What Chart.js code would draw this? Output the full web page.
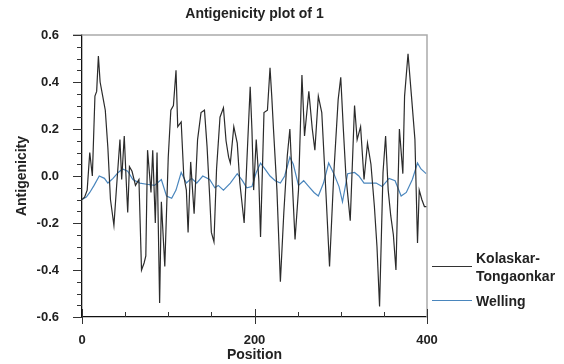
<!DOCTYPE html>
<html>
<head>
<meta charset="utf-8">
<script src="https://cdn.jsdelivr.net/npm/chart.js@4.4.1/dist/chart.umd.min.js"></script>
<style>
  body { margin: 0; background: #fff; }
  #wrap { position: relative; width: 564px; height: 364px; font-family: "Liberation Sans", Arial, sans-serif; font-weight: bold; color: #222; }
  #chart { position: absolute; left: 0; top: 0; }
  #title { position: absolute; left: 82px; width: 345px; top: 5px; text-align: center; font-size: 14px; }
  .legLine { position: absolute; left: 432px; width: 40px; height: 0; }
  .legText { position: absolute; left: 476px; font-size: 14px; line-height: 18px; }
</style>
</head>
<body>
<div id="wrap">
  <canvas id="chart" width="564" height="364"></canvas>
  <div id="title">Antigenicity plot of 1</div>
  <div class="legLine" style="top:266px; border-top:1.2px solid #333;"></div>
  <div class="legText" style="top:249px;">Kolaskar-<br>Tongaonkar</div>
  <div class="legLine" style="top:300px; border-top:1.2px solid #4a86bd;"></div>
  <div class="legText" style="top:292px;">Welling</div>
</div>
<script>
// Kolaskar-Tongaonkar antigenicity
var ktPos = [0, 3, 6, 9, 12, 15, 17, 19, 21, 24, 27, 30, 33, 37, 40, 44, 46, 49, 51, 53, 55, 58, 62, 66, 69, 72, 74, 76, 80, 82, 85, 87, 90, 92, 96,
  100, 103, 106, 109, 111, 115, 118, 121, 123, 126, 130, 134, 138, 142, 145, 148, 150, 153, 156, 160, 164, 167, 170, 172, 176, 180, 183, 188, 191, 195, 197, 199,
  202, 205, 207, 211, 215, 218, 220, 222, 226, 230, 234, 238, 241, 244, 247, 251, 255, 258, 263, 267, 270, 274, 278, 283, 287, 292, 297,
  300, 303, 306, 311, 316, 319, 323, 327, 331, 335, 339, 342, 345, 349, 352, 355, 358, 361, 364, 368, 372, 374, 378, 382, 386, 389, 391, 394, 397, 400];
var ktVal = [-0.10, -0.09, -0.06, 0.10, 0.00, 0.34, 0.36, 0.51, 0.40, 0.34, 0.28, 0.12, -0.10, -0.21, -0.05, 0.155, -0.015, 0.17, 0.0, -0.155, 0.04, 0.02, -0.04, -0.015, -0.40, -0.37, -0.34, 0.11, -0.07, 0.11, -0.20, 0.10, -0.54, -0.11, -0.385,
  0.08, 0.28, 0.30, 0.45, 0.21, 0.23, 0.0, -0.06, -0.24, 0.06, -0.16, 0.155, 0.27, 0.28, 0.125, -0.085, -0.24, -0.28, 0.03, 0.25, 0.29, 0.15, 0.08, 0.055, 0.21, 0.14, -0.03, -0.20, 0.05, 0.38, 0.20, -0.06,
  0.155, -0.015, -0.26, 0.27, 0.28, 0.46, 0.34, 0.20, -0.06, -0.45, -0.155, 0.085, 0.20, -0.04, -0.27, -0.06, 0.43, 0.17, 0.36, 0.20, 0.11, 0.34, 0.27, -0.085, -0.385, 0.015, 0.325,
  0.42, 0.20, 0.0, -0.19, 0.30, 0.155, 0.21, -0.015, 0.14, 0.05, -0.13, -0.30, -0.555, 0.015, 0.17, -0.06, -0.17, -0.25, -0.40, 0.20, 0.01, 0.34, 0.52, 0.34, 0.155, -0.285, -0.06, -0.10, -0.13, -0.13];

// Welling antigenicity
var wPos = [0, 5, 9, 14, 20, 26, 30, 36, 42, 47, 53, 59, 67, 75, 84, 92, 98, 104, 109, 115, 121, 127, 133, 140, 148, 154, 158, 164, 172, 180, 186, 191, 197,
  202, 207, 212, 218, 224, 230, 235, 241, 245, 251, 257, 263, 269, 274, 280, 286, 292, 298, 302, 308, 316, 321, 327, 334, 341, 348, 356, 363, 370, 376, 383, 389, 393, 399];
var wVal = [-0.10, -0.09, -0.07, -0.04, 0.0, -0.01, -0.03, -0.01, 0.015, 0.03, 0.02, -0.015, -0.03, -0.035, -0.04, -0.015, -0.085, -0.095, -0.06, 0.015, -0.03, -0.01, -0.03, 0.0, -0.015, -0.05, -0.04, -0.06, -0.03, 0.01, -0.02, -0.05, -0.045,
  0.015, 0.055, 0.03, 0.0, -0.02, -0.03, 0.0, 0.08, 0.05, -0.04, -0.02, -0.045, -0.07, -0.085, -0.03, 0.055, 0.01, -0.045, -0.11, 0.01, 0.015, 0.0, -0.03, -0.03, -0.03, -0.045, -0.01, -0.02, -0.085, -0.07, -0.015, 0.055, 0.03, 0.01];

var seriesNames = ['Kolaskar-Tongaonkar', 'Welling'];

function toPoints(xs, ys) {
  return xs.map(function (x, i) { return { x: x, y: ys[i] }; });
}

var tickFont = { family: '"Liberation Sans", Arial, sans-serif', size: 13, weight: 'bold' };
var titleFont = { family: '"Liberation Sans", Arial, sans-serif', size: 14, weight: 'bold' };

// frame on top/right plus tick marks (major long, minor short)
var frameTicks = {
  id: 'frameTicks',
  afterDraw: function (chart) {
    var ctx = chart.ctx;
    var a = chart.chartArea;
    var xs = chart.scales.x;
    var ys = chart.scales.y;
    ctx.save();
    ctx.strokeStyle = '#aaaaaa';
    ctx.lineWidth = 1.5;
    ctx.beginPath();
    ctx.moveTo(a.left - 9, a.top);
    ctx.lineTo(a.right, a.top);
    ctx.lineTo(a.right, a.bottom);
    ctx.stroke();

    ctx.strokeStyle = '#333';
    ctx.lineWidth = 1;
    ys.ticks.forEach(function (t) {
      var py = Math.round(ys.getPixelForValue(t.value)) + 0.5;
      var major = Math.abs(Math.round(t.value * 100)) % 20 === 0;
      ctx.beginPath();
      ctx.moveTo(a.left - (major ? 9 : 5), py);
      ctx.lineTo(a.left, py);
      ctx.stroke();
    });
    xs.ticks.forEach(function (t) {
      var px = Math.round(xs.getPixelForValue(t.value)) + 0.5;
      var major = t.value % 200 === 0;
      ctx.beginPath();
      if (major) {
        ctx.moveTo(px, a.bottom - 8);
        ctx.lineTo(px, a.bottom + 7);
      } else {
        ctx.moveTo(px, a.bottom - 5);
        ctx.lineTo(px, a.bottom);
      }
      ctx.stroke();
    });
    ctx.restore();
  }
};

var ctx = document.getElementById('chart');
var myChart = new Chart(ctx, {
  type: 'line',
  data: {
    datasets: [{
      label: seriesNames[0],
      data: toPoints(ktPos, ktVal),
      borderColor: '#2b2b2b',
      borderWidth: 1.2,
      pointRadius: 0,
      tension: 0,
      fill: false
    }, {
      label: seriesNames[1],
      data: toPoints(wPos, wVal),
      borderColor: '#4a86bd',
      borderWidth: 1.2,
      pointRadius: 0,
      tension: 0,
      fill: false
    }]
  },
  options: {
    responsive: false,
    animation: false,
    layout: { padding: { top: 35, right: 137, left: 0, bottom: 0 } },
    plugins: {
      legend: { display: false },
      title: { display: false },
      tooltip: { enabled: false }
    },
    scales: {
      x: {
        type: 'linear',
        min: 0,
        max: 400,
        afterFit: function (s) { s.height = 47; },
        ticks: {
          stepSize: 50,
          autoSkip: false,
          maxRotation: 0,
          padding: 8,
          color: '#222',
          font: tickFont,
          callback: function (v) { return v % 200 === 0 ? String(v) : ''; }
        },
        grid: { display: false },
        border: { display: true, color: '#111', width: 1.3 },
        title: { display: true, text: 'Position', color: '#222', font: titleFont, padding: { top: 0, bottom: 0 } }
      },
      y: {
        type: 'linear',
        min: -0.6,
        max: 0.6,
        afterFit: function (s) { s.width = 82; },
        ticks: {
          stepSize: 0.05,
          autoSkip: false,
          padding: 15,
          color: '#222',
          font: tickFont,
          callback: function (v) {
            return Math.abs(Math.round(v * 100)) % 20 === 0 ? (Math.round(v * 10) / 10).toFixed(1) : '';
          }
        },
        grid: { display: false },
        border: { display: true, color: '#111', width: 1.3 },
        title: { display: true, text: 'Antigenicity', color: '#222', font: titleFont, padding: { top: 14, bottom: 0 } }
      }
    }
  },
  plugins: [frameTicks]
});
</script>
</body>
</html>
